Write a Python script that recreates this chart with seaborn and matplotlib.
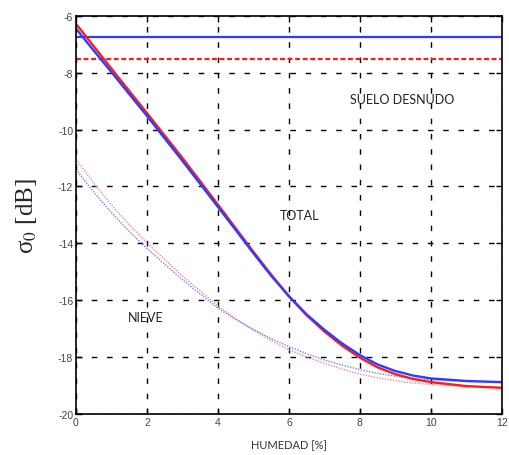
import matplotlib
matplotlib.use("Agg")
import matplotlib.pyplot as plt
import seaborn as sns
import pandas as pd

# humedad [%] sample points
humedad = [0, 0.5, 1, 1.5, 2, 3, 4, 4.5, 5, 5.5, 6, 6.5, 7, 7.5, 8, 8.5, 9, 9.5, 10, 11, 12]

total_azul = [-6.45, -7.22, -7.98, -8.75, -9.52, -11.1, -12.72, -13.53, -14.35, -15.14, -15.86,
              -16.5, -17.04, -17.52, -17.93, -18.26, -18.49, -18.65, -18.75, -18.84, -18.88]
total_rojo = [-6.28, -7.07, -7.86, -8.64, -9.42, -11.0, -12.64, -13.47, -14.3, -15.1, -15.86,
              -16.53, -17.1, -17.6, -18.02, -18.36, -18.6, -18.77, -18.88, -19.02, -19.08]

nieve_azul = [-11.4, -12.2, -12.92, -13.58, -14.18, -15.28, -16.28, -16.68, -17.03, -17.35, -17.63,
              -17.88, -18.1, -18.28, -18.44, -18.57, -18.67, -18.75, -18.8, -18.86, -18.88]
nieve_rojo = [-11.03, -11.88, -12.65, -13.34, -13.98, -15.15, -16.2, -16.65, -17.05, -17.42, -17.74,
              -18.0, -18.22, -18.42, -18.6, -18.73, -18.83, -18.91, -18.96, -19.04, -19.08]

# bare soil levels (constant)
suelo_azul = -6.75
suelo_rojo = -7.5

xticks = [0, 2, 4, 6, 8, 10, 12]
yticks = [-20, -18, -16, -14, -12, -10, -8, -6]

sns.set_style("white")
plt.rcParams["font.family"] = ["Liberation Sans", "DejaVu Sans"]
plt.rcParams["mathtext.fontset"] = "stix"

fig = plt.figure(figsize=(5.1, 4.56), dpi=100)
ax = fig.add_axes([0.149, 0.090, 0.835, 0.873])

df = pd.DataFrame({"humedad": humedad, "total_azul": total_azul, "total_rojo": total_rojo,
                   "nieve_azul": nieve_azul, "nieve_rojo": nieve_rojo})

# grid first so curves sit on top
ax.set_axisbelow(True)
ax.grid(True, color="black", linestyle=(0, (4, 7)), linewidth=1.0)

ax.axhline(suelo_azul, color="#2f3cff", lw=1.6)
ax.axhline(suelo_rojo, color="#ff1a1a", lw=1.6, linestyle=(0, (2.2, 1.2)))

sns.lineplot(data=df, x="humedad", y="nieve_rojo", ax=ax, color="#f08a9a", lw=1.0,
             linestyle=(0, (1, 1)))
sns.lineplot(data=df, x="humedad", y="nieve_azul", ax=ax, color="#7c7cf0", lw=1.0,
             linestyle=(0, (1, 1)))
sns.lineplot(data=df, x="humedad", y="total_rojo", ax=ax, color="#ff1a1a", lw=1.7)
sns.lineplot(data=df, x="humedad", y="total_azul", ax=ax, color="#2f3cff", lw=1.7)

ax.set_xlim(0, 12)
ax.set_ylim(-20, -6)
ax.set_xticks(xticks)
ax.set_yticks(yticks)
ax.set_xticklabels([str(v) for v in xticks], fontsize=7.5, color="#444444")
ax.set_yticklabels([str(v) for v in yticks], fontsize=7.5, color="#444444")
ax.tick_params(direction="in", top=True, right=True, bottom=True, left=True,
               length=4, width=1, color="black", pad=2)

for sp in ax.spines.values():
    sp.set_visible(True)
    sp.set_color("black")
    sp.set_linewidth(1.2)

ax.set_xlabel("HUMEDAD [%]", fontsize=8, family=["Lato", "DejaVu Sans"], color="#333333",
              labelpad=9)
ax.set_ylabel("σ$_0$ [dB]", fontsize=18, family=["Liberation Serif", "DejaVu Serif"],
              labelpad=14)

lbl = dict(fontsize=9, family=["Lato", "DejaVu Sans"], color="#222222", ha="center", va="center")
ax.text(9.18, -8.92, "SUELO DESNUDO", **lbl)
ax.text(6.31, -13.0, "TOTAL", **lbl)
ax.text(1.97, -16.6, "NIEVE", **lbl)

fig.savefig("out.png", dpi=100)
